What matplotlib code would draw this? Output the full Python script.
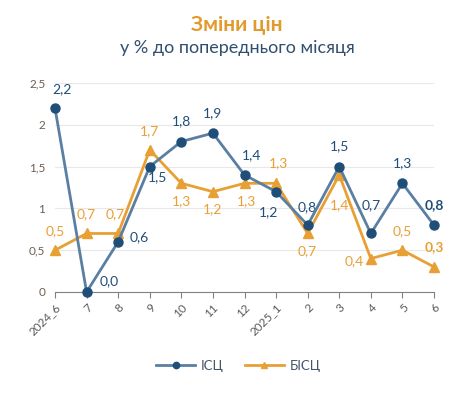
import matplotlib.pyplot as plt

plt.rcParams['font.family'] = ['Lato', 'DejaVu Sans']

months = ["2024_6", "7", "8", "9", "10", "11", "12", "2025_1", "2", "3", "4", "5", "6"]
isc = [2.2, 0.0, 0.6, 1.5, 1.8, 1.9, 1.4, 1.2, 0.8, 1.5, 0.7, 1.3, 0.8]
bisc = [0.5, 0.7, 0.7, 1.7, 1.3, 1.2, 1.3, 1.3, 0.7, 1.4, 0.4, 0.5, 0.3]

# label offsets in pixels (dx, dy)
isc_off = [(7, 19), (23, 11), (21, 5), (8, -11), (0, 20), (0, 20), (7, 20), (-8, -20),
           (0, 18), (0, 20), (0, 28), (0, 20), (0, 20)]
bisc_off = [(0, 19), (0, 19), (-3, 19), (0, 19), (0, -18), (0, -17), (2, -18), (2, 20),
            (0, -18), (0, -30), (-17, -3), (0, 19), (0, 20)]

blue_line = '#5a7fa3'
blue_dark = '#1f4e79'
orange = '#e8a035'

fig = plt.figure(figsize=(4.67, 3.96), dpi=100)
ax = fig.add_axes([55 / 467, 1 - 292 / 396, 379 / 467, 209 / 396])

x = list(range(len(months)))
ax.plot(x, isc, color=blue_line, lw=2, marker='o', ms=6.5, mfc=blue_dark, mec=blue_dark,
        label='ІСЦ', clip_on=False, zorder=4)
ax.plot(x, bisc, color=orange, lw=2, marker='^', ms=7, mfc=orange, mec=orange,
        label='БІСЦ', clip_on=False, zorder=3)

for i in x:
    bold = 'bold' if i == len(x) - 1 else 'normal'
    ax.annotate(f"{isc[i]:.1f}".replace('.', ','), (i, isc[i]), xytext=isc_off[i],
                textcoords='offset pixels', ha='center', va='center', fontsize=10,
                color=blue_dark, fontweight=bold)
    ax.annotate(f"{bisc[i]:.1f}".replace('.', ','), (i, bisc[i]), xytext=bisc_off[i],
                textcoords='offset pixels', ha='center', va='center', fontsize=10,
                color=orange, fontweight=bold)

ax.set_xlim(0, 12)
ax.set_ylim(0, 2.5)
ax.set_xticks(x)
ax.set_xticklabels(months, rotation=45, ha='right', rotation_mode='anchor',
                   color='#595959', fontsize=8.5)
ax.set_yticks([0, 0.5, 1, 1.5, 2, 2.5])
ax.set_yticklabels(['0', '0,5', '1', '1,5', '2', '2,5'], color='#6e5f50', fontsize=8.5)
ax.tick_params(axis='y', length=0, pad=7)
ax.tick_params(axis='x', length=4, color='#808080', pad=3)
ax.grid(axis='y', color='#e8e8e8', lw=0.8)
ax.set_axisbelow(True)
for s in ['left', 'right', 'top']:
    ax.spines[s].set_visible(False)
ax.spines['bottom'].set_color('#808080')

fig.text(237 / 467, 1 - 25 / 396, 'Зміни цін', ha='center', va='center',
         fontsize=15, fontweight='bold', color='#e39a2d')
fig.text(237 / 467, 1 - 48 / 396, 'у % до попереднього місяця', ha='center', va='center',
         fontsize=13, color='#2f4f6f')

fig.legend(loc='center', bbox_to_anchor=(0.51, 1 - 366 / 396), ncol=2, frameon=False,
           fontsize=9.5, labelcolor='#44546a', handlelength=3.0, handletextpad=0.4,
           columnspacing=1.6, markerscale=0.7)

fig.savefig('out.png', dpi=100)
